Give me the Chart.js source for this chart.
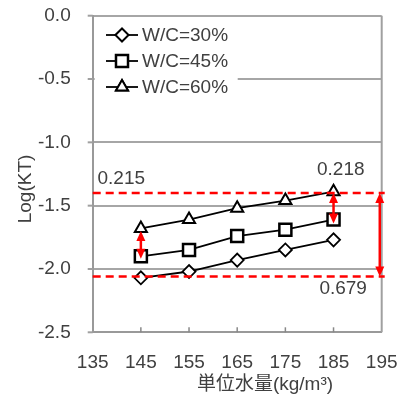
<!DOCTYPE html>
<html><head><meta charset="utf-8">
<script src="https://cdn.jsdelivr.net/npm/chart.js@4/dist/chart.umd.min.js"></script>
<style>html,body{margin:0;padding:0;background:#fff;}#wrap{width:408px;height:401px;}</style>
</head><body><div id="wrap"><canvas id="c" width="408" height="401"></canvas></div>
<script>
const xValues = [145, 155, 165, 175, 185];
const wc30 = [-2.07, -2.02, -1.93, -1.85, -1.77];
const wc45 = [-1.90, -1.85, -1.74, -1.69, -1.61];
const wc60 = [-1.68, -1.61, -1.52, -1.46, -1.39];
const seriesNames = ['W/C=30%', 'W/C=45%', 'W/C=60%'];
const xTicks = [135, 145, 155, 165, 175, 185, 195];
const yTicks = [0.0, -0.5, -1.0, -1.5, -2.0, -2.5];
const dashLevels = [-1.40, -2.06];
const arrows = [[145, -1.70, -1.92], [185, -1.40, -1.64], [194.6, -1.40, -2.06]];
const notes = [['0.215', 136, -1.29, 'left'], ['0.218', 186.5, -1.22, 'center'], ['0.679', 187, -2.16, 'center']];
const xTitle = '単位水量(kg/m³)';
const yTitle = 'Log(KT)';

const FONT = '"Liberation Sans", Arial, "Noto Sans CJK JP", sans-serif';
const styles = [
  {pointStyle: 'rectRot', radius: 6.5, bw: 1.8},
  {pointStyle: 'rect', radius: 8.5, bw: 2.5},
  {pointStyle: 'triangle', radius: 7, bw: 2}
];
const allSeries = [wc30, wc45, wc60];
const datasets = allSeries.map((s, i) => ({
  label: seriesNames[i],
  data: xValues.map((x, j) => ({x: x, y: s[j]})),
  showLine: true,
  borderColor: '#000',
  borderWidth: 1.8,
  pointStyle: styles[i].pointStyle,
  pointRadius: styles[i].radius,
  pointBorderWidth: styles[i].bw,
  pointBackgroundColor: '#fff',
  pointBorderColor: '#000',
  pointHoverRadius: styles[i].radius
}));

function arrowHead(ctx, x, y, dir) {
  ctx.beginPath();
  ctx.moveTo(x, y);
  ctx.lineTo(x - 4.5, y - dir * 10);
  ctx.lineTo(x + 4.5, y - dir * 10);
  ctx.closePath();
  ctx.fill();
}

const deco = {
  id: 'deco',
  beforeDatasetsDraw(chart) {
    const ctx = chart.ctx, a = chart.chartArea;
    const xs = chart.scales.x, ys = chart.scales.y;
    ctx.save();
    ctx.strokeStyle = '#a0a0a0';
    ctx.lineWidth = 2;
    ctx.beginPath();
    ctx.moveTo(a.right, a.top);
    ctx.lineTo(a.right, a.bottom);
    ctx.stroke();
    // short outward y tick marks
    yTicks.forEach(t => {
      const py = ys.getPixelForValue(t);
      ctx.beginPath();
      ctx.moveTo(a.left - 5, py);
      ctx.lineTo(a.left, py);
      ctx.stroke();
    });
    // inward x tick marks
    ctx.strokeStyle = '#888';
    ctx.lineWidth = 1.5;
    xTicks.forEach(t => {
      if (t === xTicks[0] || t === xTicks[xTicks.length - 1]) return;
      const px = xs.getPixelForValue(t);
      ctx.beginPath();
      ctx.moveTo(px, a.bottom);
      ctx.lineTo(px, a.bottom - 5);
      ctx.stroke();
    });
    ctx.fillStyle = '#fff';
    ctx.fillRect(a.left + 2, 22, 143, 78);
    const rows = [35, 61, 87];
    rows.forEach((ry, i) => {
      ctx.strokeStyle = '#000';
      ctx.lineWidth = 1.8;
      ctx.beginPath();
      ctx.moveTo(106, ry);
      ctx.lineTo(138, ry);
      ctx.stroke();
      Chart.helpers.drawPoint(ctx, {
        pointStyle: styles[i].pointStyle, radius: styles[i].radius, rotation: 0,
        borderWidth: styles[i].bw
      }, 122, ry);
      ctx.fillStyle = '#fff';
      ctx.strokeStyle = '#000';
      ctx.lineWidth = styles[i].bw;
      ctx.fill();
      ctx.stroke();
      ctx.fillStyle = '#404040';
      ctx.font = '19px ' + FONT;
      ctx.textAlign = 'left';
      ctx.textBaseline = 'middle';
      ctx.fillText(seriesNames[i], 142, ry + 1);
    });
    ctx.restore();
  },
  afterDatasetsDraw(chart) {
    const ctx = chart.ctx, a = chart.chartArea;
    const xs = chart.scales.x, ys = chart.scales.y;
    ctx.save();
    ctx.strokeStyle = '#ff0000';
    ctx.fillStyle = '#ff0000';
    ctx.lineWidth = 2.5;
    ctx.setLineDash([8, 5]);
    dashLevels.forEach(v => {
      const py = ys.getPixelForValue(v);
      ctx.beginPath();
      ctx.moveTo(a.left, py);
      ctx.lineTo(a.right + 3, py);
      ctx.stroke();
    });
    ctx.setLineDash([]);
    arrows.forEach(([xv, y1, y2]) => {
      const px = xs.getPixelForValue(xv);
      const p1 = ys.getPixelForValue(y1), p2 = ys.getPixelForValue(y2);
      ctx.beginPath();
      ctx.moveTo(px, p1 + 6);
      ctx.lineTo(px, p2 - 6);
      ctx.stroke();
      arrowHead(ctx, px, p1, -1);
      arrowHead(ctx, px, p2, 1);
    });
    ctx.fillStyle = '#404040';
    ctx.font = '19px ' + FONT;
    ctx.textBaseline = 'middle';
    notes.forEach(([t, xv, yv, al]) => {
      ctx.textAlign = al;
      ctx.fillText(t, xs.getPixelForValue(xv), ys.getPixelForValue(yv));
    });
    ctx.textAlign = 'center';
    ctx.fillText(xTitle, 265, 385);
    ctx.translate(26, 189);
    ctx.rotate(-Math.PI / 2);
    ctx.fillText(yTitle, 0, 0);
    ctx.restore();
  }
};

new Chart(document.getElementById('c'), {
  type: 'scatter',
  data: {datasets: datasets},
  plugins: [deco],
  options: {
    responsive: false,
    animation: false,
    devicePixelRatio: 1,
    layout: {padding: {left: 0, right: 26.3, top: 15.7, bottom: 0}},
    plugins: {legend: {display: false}, tooltip: {enabled: false}},
    scales: {
      x: {
        type: 'linear', min: 135, max: 195,
        afterBuildTicks: s => { s.ticks = xTicks.map(v => ({value: v})); },
        afterFit: s => { s.height = 68.7; },
        grid: {display: true, drawOnChartArea: false, drawTicks: true, tickLength: 18.6,
          color: 'rgba(0,0,0,0)', tickColor: 'rgba(0,0,0,0)'},
        border: {display: true, color: '#999', width: 2},
        ticks: {color: '#404040', font: {size: 19, family: FONT}, padding: 0, maxRotation: 0, autoSkip: false,
          callback: v => String(v)}
      },
      y: {
        type: 'linear', min: -2.5, max: 0,
        afterBuildTicks: s => { s.ticks = yTicks.map(v => ({value: v})); },
        afterFit: s => { s.width = 92.7; },
        grid: {color: '#a6a6a6', lineWidth: 2, tickLength: 22, drawTicks: true, tickColor: 'rgba(0,0,0,0)'},
        border: {display: true, color: '#999', width: 2},
        ticks: {color: '#404040', font: {size: 19, family: FONT}, padding: 0, autoSkip: false,
          callback: v => v.toFixed(1)}
      }
    }
  }
});
</script>
</body></html>
